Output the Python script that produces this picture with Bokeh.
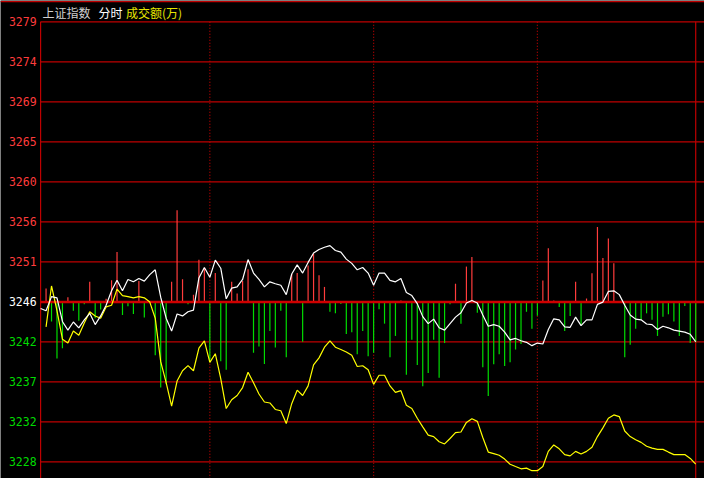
from bokeh.plotting import figure
from bokeh.models import ColumnDataSource, Range1d
from bokeh.embed import file_html
from bokeh.resources import INLINE
from bokeh.core.properties import value

# ---------------- data ----------------
prev_close = 3246.35          # centre line (previous close)
grid_step = 4.62              # price step between grid lines
grid_steps = list(range(-4, 8))
tick_labels = ["3228", "3232", "3237", "3242", "3246", "3251",
               "3256", "3260", "3265", "3269", "3274", "3279"]
session_marks = [62, 122, 182]   # dotted time dividers (minute index)

minutes = list(range(0, 241, 2))
index_white = [
    3245.59, 3245.32, 3246.96, 3246.82, 3244.09, 3243.09, 3244.03, 3243.36, 3244.28, 3245.03,
    3243.73, 3244.73, 3245.96, 3247.63, 3248.86, 3247.63, 3248.94, 3248.67, 3249.05, 3248.75,
    3249.50, 3250.06, 3246.89, 3244.47, 3242.98, 3244.95, 3244.73, 3245.21, 3245.40, 3249.12,
    3250.32, 3249.20, 3251.18, 3250.24, 3246.71, 3247.94, 3248.08, 3248.94, 3251.24, 3249.68,
    3248.94, 3248.08, 3248.67, 3248.45, 3248.27, 3247.19, 3249.57, 3250.62, 3249.68, 3250.91,
    3251.99, 3252.40, 3252.66, 3252.85, 3252.29, 3252.10, 3251.29, 3250.80, 3250.06, 3250.32,
    3249.68, 3248.27, 3249.68, 3249.68, 3248.83, 3248.67, 3249.05, 3247.44, 3247.08, 3246.15,
    3244.65, 3243.84, 3244.36, 3243.36, 3243.09, 3243.84, 3244.59, 3245.10, 3246.22, 3246.52,
    3246.22, 3244.84, 3243.54, 3243.73, 3243.54, 3242.86, 3241.97, 3242.13, 3241.86, 3241.68,
    3241.30, 3241.60, 3241.49, 3243.17, 3244.40, 3244.28, 3243.47, 3243.42, 3244.59, 3243.61,
    3244.28, 3244.28, 3246.07, 3246.33, 3247.56, 3247.63, 3247.19, 3245.96, 3244.84, 3244.36,
    3244.28, 3243.80, 3243.73, 3243.17, 3243.54, 3243.36, 3243.09, 3242.98, 3242.86, 3242.61,
    3241.75]

yellow_minutes = list(range(2, 241, 2))
index_yellow = [
    3243.47, 3248.19, 3245.33, 3242.05, 3241.60, 3242.98, 3242.50, 3243.91, 3245.21, 3244.73,
    3244.47, 3245.77, 3245.96, 3247.82, 3247.08, 3246.96, 3246.82, 3246.96, 3246.82, 3246.33,
    3244.47, 3239.45, 3237.02, 3234.31, 3237.21, 3238.40, 3239.00, 3238.40, 3241.01, 3241.86,
    3239.37, 3240.37, 3237.50, 3234.04, 3235.05, 3235.54, 3236.46, 3238.22, 3237.02, 3235.72,
    3234.79, 3234.68, 3233.93, 3233.78, 3232.30, 3234.60, 3236.16, 3235.54, 3236.65, 3239.07,
    3239.89, 3241.12, 3241.86, 3241.12, 3240.85, 3240.56, 3240.18, 3238.89, 3238.98, 3238.51,
    3236.83, 3237.88, 3237.88, 3236.65, 3235.91, 3236.10, 3234.42, 3234.04, 3232.92, 3231.92,
    3230.96, 3230.80, 3230.21, 3229.95, 3230.58, 3231.25, 3231.33, 3232.44, 3232.86, 3232.56,
    3230.69, 3229.01, 3228.84, 3228.65, 3228.20, 3227.61, 3227.34, 3227.08, 3227.16, 3226.86,
    3226.86, 3227.34, 3229.09, 3229.84, 3229.39, 3228.72, 3228.57, 3229.09, 3228.79, 3229.09,
    3229.57, 3230.80, 3231.81, 3232.92, 3233.30, 3233.11, 3231.44, 3230.80, 3230.43, 3230.13,
    3229.68, 3229.46, 3229.32, 3229.32, 3229.01, 3228.72, 3228.72, 3228.72, 3228.28, 3227.61]

bar_minutes = list(range(2, 241, 2))
bar_vals = [
    1.54, -2.26, -6.53, -5.34, 0.54, -1.03, -2.18, -0.28, 2.32, -1.88,
    -0.87, 0.36, 2.51, 5.75, -1.51, -0.50, -1.40, 2.40, -1.81, 0.0,
    -6.17, -9.89, -9.52, 2.32, 10.59, 2.62, -0.28, 0.84, 4.86, 3.91,
    -6.90, 3.33, -6.84, -7.84, 2.32, 0.98, 2.40, 3.78, -5.86, -5.16,
    -7.17, -3.37, -5.27, -1.03, -6.39, 3.22, 3.33, -4.60, 4.19, 5.56,
    3.07, 1.73, -1.14, -1.32, -0.25, -3.71, -3.49, -6.05, -3.37, -6.28,
    -5.86, -0.84, -2.51, -6.39, -3.93, 0.17, -8.40, -4.38, -7.28, -9.74,
    -8.21, -4.38, -8.77, -4.75, -0.28, 2.10, -2.51, 4.08, 5.19, -1.25,
    -7.54, -10.86, -7.20, -6.05, -7.39, -6.98, -5.50, -4.86, -1.14, -3.11,
    -1.59, 2.48, 6.20, 0.17, -0.58, -3.37, -1.62, 2.32, -2.70, 0.39,
    3.30, 8.66, 5.08, 7.32, 4.45, 0.0, -6.39, -4.94, -3.11, -2.07,
    -1.32, -2.07, -3.93, -1.70, -1.43, -2.26, -3.93, -0.47, -4.75, -4.67]

title_parts = ["上证指数", "分时", "成交额(万)"]

# ---------------- styling ----------------
GRID = "#BE0000"
RED = "#FF3C3C"
GREEN = "#00DC00"
BG = "#000000"

W, H = 704, 478
x_lo, x_hi = -14.69, 243.22
y_lo, y_hi = 3225.96, 3281.15

p = figure(width=W, height=H, output_backend="svg", toolbar_location=None, tools="",
           x_range=Range1d(x_lo, x_hi), y_range=Range1d(y_lo, y_hi),
           x_axis_type=None, y_axis_type=None, min_border=0,
           background_fill_color=BG, border_fill_color=BG, outline_line_color=None)

grid_vals = [prev_close + k * grid_step for k in grid_steps]
t_end = minutes[-1]

# frame line along the very top
p.segment(x0=[x_lo], x1=[x_hi], y0=[y_hi - 0.12], y1=[y_hi - 0.12],
          line_color=GRID, line_width=1.2)

# horizontal grid lines
other = [g for k, g in zip(grid_steps, grid_vals) if k != 0]
p.segment(x0=[0] * len(other), x1=[x_hi] * len(other), y0=other, y1=other,
          line_color=GRID, line_width=1.2)

# vertical borders and dotted session dividers
top = grid_vals[-1]
p.segment(x0=[0, t_end], x1=[0, t_end], y0=[top, top], y1=[y_lo, y_lo],
          line_color=GRID, line_width=1.2)
p.segment(x0=session_marks, x1=session_marks, y0=[top] * 3, y1=[y_lo] * 3,
          line_color=GRID, line_width=1.2, line_dash="1 2")

# bars
up = [(m, v) for m, v in zip(bar_minutes, bar_vals) if v > 0]
dn = [(m, v) for m, v in zip(bar_minutes, bar_vals) if v < 0]
p.segment(x0=[m for m, _ in up], x1=[m for m, _ in up],
          y0=[prev_close] * len(up), y1=[prev_close + v for _, v in up],
          line_color=RED, line_width=1.2)
p.segment(x0=[m for m, _ in dn], x1=[m for m, _ in dn],
          y0=[prev_close] * len(dn), y1=[prev_close + v for _, v in dn],
          line_color=GREEN, line_width=1.2)

# centre line
p.segment(x0=[0], x1=[x_hi], y0=[prev_close], y1=[prev_close],
          line_color="#D00000", line_width=2.5)

# index lines
p.line(yellow_minutes, index_yellow, line_color="#FFFF00", line_width=1.2)
p.line(minutes, index_white, line_color="#FFFFFF", line_width=1.2)

# price labels
lab_colors = [RED if k > 0 else ("#FFFFFF" if k == 0 else GREEN) for k in grid_steps]
src = ColumnDataSource(dict(x=[0] * len(grid_vals), y=grid_vals, t=tick_labels, c=lab_colors))
p.text(x="x", y="y", text="t", text_color="c", source=src, x_offset=-4,
       text_align="right", text_baseline="middle",
       text_font=value("DejaVu Sans Mono"), text_font_size="11.5px")

# title
title_x = [0.7, 21.2, 31.3]
title_c = ["#D0D0D0", "#FFFFFF", "#E6E600"]
tsrc = ColumnDataSource(dict(x=title_x, y=[y_hi] * 3, t=title_parts, c=title_c))
p.text(x="x", y="y", text="t", text_color="c", source=tsrc, y_offset=3,
       text_align="left", text_baseline="top",
       text_font=value("Noto Sans CJK SC"), text_font_size="12px")

open("out.html", "w").write(file_html(p, INLINE))
